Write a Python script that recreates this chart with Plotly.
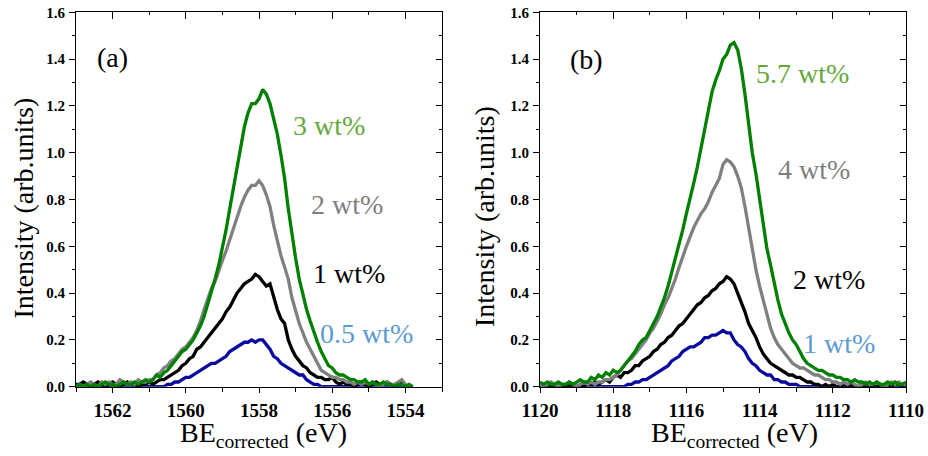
import numpy as np
import plotly.graph_objects as go

# ---------------- data ----------------
be_a = np.round(np.arange(1563.0, 1553.75, -0.1), 1)   # 1563.0 ... 1553.8
be_b = np.round(np.arange(1120.0, 1109.95, -0.1), 1)   # 1120.0 ... 1110.0

a_3wt = [0.00, 0.01, 0.00, 0.01, 0.00, 0.01, 0.00, 0.01, 0.02, 0.01,
         0.01, 0.00, 0.01, 0.02, 0.01, 0.01, 0.02, 0.01, 0.02, 0.03,
         0.02, 0.03, 0.05, 0.04, 0.06, 0.07, 0.09, 0.11, 0.13, 0.15,
         0.16, 0.18, 0.20, 0.23, 0.26, 0.30, 0.35, 0.40, 0.46, 0.52,
         0.59, 0.67, 0.76, 0.85, 0.94, 1.03, 1.11, 1.17, 1.21, 1.21,
         1.23, 1.27, 1.25, 1.21, 1.15, 1.08, 0.99, 0.89, 0.76, 0.65,
         0.55, 0.46, 0.39, 0.33, 0.28, 0.23, 0.19, 0.15, 0.12, 0.09,
         0.08, 0.06, 0.05, 0.05, 0.04, 0.03, 0.03, 0.02, 0.02, 0.03,
         0.01, 0.02, 0.01, 0.01, 0.02, 0.01, 0.01, 0.00, 0.01, 0.01,
         0.00, 0.01, 0.00]
a_2wt = [0.00, 0.01, 0.00, 0.01, 0.02, 0.01, 0.00, 0.02, 0.01, 0.02,
         0.01, 0.01, 0.03, 0.02, 0.01, 0.02, 0.01, 0.03, 0.02, 0.02,
         0.03, 0.03, 0.05, 0.06, 0.08, 0.09, 0.11, 0.12, 0.14, 0.16,
         0.17, 0.19, 0.21, 0.24, 0.28, 0.33, 0.38, 0.42, 0.45, 0.50,
         0.54, 0.58, 0.63, 0.68, 0.73, 0.77, 0.81, 0.84, 0.86, 0.86,
         0.88, 0.86, 0.82, 0.77, 0.69, 0.62, 0.56, 0.51, 0.46, 0.38,
         0.32, 0.27, 0.23, 0.19, 0.16, 0.13, 0.10, 0.07, 0.06, 0.05,
         0.04, 0.04, 0.03, 0.03, 0.02, 0.02, 0.01, 0.02, 0.01, 0.02,
         0.01, 0.02, 0.01, 0.00, 0.01, 0.02, 0.01, 0.01, 0.02, 0.03,
         0.01, 0.00, 0.00]
a_1wt = [0.00, 0.01, 0.02, 0.01, 0.00, 0.01, 0.02, 0.01, 0.00, 0.01,
         0.02, 0.01, 0.00, 0.01, 0.02, 0.01, 0.01, 0.00, 0.01, 0.01,
         0.02, 0.01, 0.02, 0.03, 0.03, 0.04, 0.05, 0.06, 0.07, 0.09,
         0.10, 0.12, 0.13, 0.16, 0.17, 0.19, 0.21, 0.23, 0.25, 0.27,
         0.29, 0.32, 0.34, 0.37, 0.40, 0.42, 0.44, 0.45, 0.46, 0.48,
         0.47, 0.45, 0.43, 0.44, 0.38, 0.33, 0.29, 0.27, 0.20, 0.16,
         0.13, 0.11, 0.09, 0.08, 0.06, 0.05, 0.04, 0.04, 0.03, 0.03,
         0.04, 0.02, 0.01, 0.02, 0.01, 0.01, 0.00, 0.01, 0.02, 0.01,
         0.00, 0.01, 0.02, 0.01, 0.01, 0.02, 0.01, 0.00, 0.01, 0.02,
         0.00, 0.00, 0.00]
a_05wt = [0.01, 0.01, 0.00, 0.00, 0.00, 0.00, 0.00, 0.00, 0.00, 0.00,
          0.00, 0.00, 0.00, 0.00, 0.00, 0.00, 0.00, 0.00, 0.00, 0.00,
          0.00, 0.00, 0.00, 0.00, 0.00, 0.01, 0.01, 0.02, 0.02, 0.03,
          0.04, 0.04, 0.05, 0.06, 0.07, 0.08, 0.09, 0.10, 0.10, 0.11,
          0.12, 0.13, 0.15, 0.16, 0.17, 0.18, 0.19, 0.19, 0.20, 0.19,
          0.20, 0.20, 0.18, 0.16, 0.13, 0.12, 0.10, 0.09, 0.08, 0.07,
          0.06, 0.05, 0.05, 0.03, 0.02, 0.01, 0.01, 0.00, 0.00, 0.00,
          0.00, 0.00, 0.00, 0.00, 0.00, 0.00, 0.00, 0.00, 0.00, 0.00,
          0.00, 0.00, 0.00, 0.00, 0.00, 0.00, 0.00, 0.00, 0.00, 0.00,
          0.00, 0.00, 0.00]

b_57wt = [0.02, 0.01, 0.02, 0.01, 0.01, 0.02, 0.01, 0.01, 0.02, 0.01,
          0.02, 0.03, 0.02, 0.02, 0.04, 0.03, 0.05, 0.04, 0.06, 0.05,
          0.07, 0.06, 0.07, 0.09, 0.11, 0.13, 0.15, 0.18, 0.20, 0.21,
          0.24, 0.27, 0.30, 0.34, 0.38, 0.43, 0.49, 0.54, 0.61, 0.67,
          0.74, 0.80, 0.87, 0.94, 1.02, 1.10, 1.17, 1.26, 1.31, 1.35,
          1.40, 1.42, 1.46, 1.47, 1.44, 1.36, 1.25, 1.12, 1.00, 0.91,
          0.80, 0.69, 0.59, 0.52, 0.44, 0.37, 0.31, 0.27, 0.23, 0.20,
          0.18, 0.15, 0.12, 0.10, 0.09, 0.08, 0.07, 0.07, 0.06, 0.05,
          0.05, 0.04, 0.04, 0.03, 0.03, 0.02, 0.03, 0.02, 0.02, 0.01,
          0.02, 0.01, 0.02, 0.01, 0.01, 0.02, 0.01, 0.02, 0.01, 0.01,
          0.02]
b_4wt = [0.01, 0.00, 0.01, 0.02, 0.01, 0.00, 0.01, 0.01, 0.02, 0.01,
         0.00, 0.01, 0.02, 0.01, 0.02, 0.01, 0.02, 0.02, 0.03, 0.03,
         0.04, 0.05, 0.07, 0.09, 0.11, 0.12, 0.14, 0.16, 0.18, 0.20,
         0.23, 0.25, 0.28, 0.31, 0.35, 0.38, 0.42, 0.46, 0.51, 0.56,
         0.60, 0.64, 0.68, 0.71, 0.74, 0.76, 0.79, 0.83, 0.86, 0.89,
         0.95, 0.97, 0.96, 0.94, 0.90, 0.85, 0.77, 0.68, 0.58, 0.50,
         0.43, 0.37, 0.30, 0.25, 0.21, 0.18, 0.16, 0.14, 0.12, 0.10,
         0.09, 0.08, 0.08, 0.07, 0.06, 0.05, 0.05, 0.04, 0.03, 0.03,
         0.02, 0.02, 0.01, 0.02, 0.01, 0.02, 0.01, 0.00, 0.01, 0.02,
         0.01, 0.01, 0.02, 0.01, 0.00, 0.01, 0.02, 0.01, 0.02, 0.01,
         0.01]
b_2wt = [0.00, 0.01, 0.00, 0.00, 0.01, 0.00, 0.01, 0.00, 0.01, 0.00,
         0.00, 0.01, 0.00, 0.01, 0.01, 0.02, 0.01, 0.02, 0.03, 0.02,
         0.04, 0.05, 0.04, 0.06, 0.06, 0.07, 0.09, 0.09, 0.11, 0.12,
         0.13, 0.15, 0.16, 0.18, 0.19, 0.21, 0.22, 0.24, 0.26, 0.27,
         0.29, 0.31, 0.33, 0.35, 0.36, 0.38, 0.39, 0.41, 0.42, 0.44,
         0.45, 0.47, 0.46, 0.44, 0.40, 0.36, 0.32, 0.27, 0.24, 0.21,
         0.17, 0.14, 0.12, 0.10, 0.09, 0.08, 0.07, 0.06, 0.05, 0.05,
         0.04, 0.04, 0.03, 0.02, 0.02, 0.01, 0.01, 0.00, 0.01, 0.00,
         0.01, 0.00, 0.00, 0.01, 0.00, 0.01, 0.00, 0.00, 0.01, 0.00,
         0.01, 0.00, 0.00, 0.01, 0.00, 0.01, 0.00, 0.01, 0.01, 0.00,
         0.00]
b_1wt = [0.00, 0.00, 0.00, 0.00, 0.00, 0.00, 0.00, 0.00, 0.00, 0.00,
         0.00, 0.00, 0.00, 0.00, 0.00, 0.00, 0.00, 0.00, 0.00, 0.00,
         0.00, 0.00, 0.00, 0.00, 0.01, 0.01, 0.02, 0.02, 0.03, 0.03,
         0.04, 0.05, 0.06, 0.07, 0.08, 0.09, 0.11, 0.12, 0.13, 0.15,
         0.16, 0.17, 0.17, 0.18, 0.19, 0.21, 0.21, 0.22, 0.22, 0.23,
         0.24, 0.23, 0.23, 0.20, 0.18, 0.17, 0.15, 0.12, 0.10, 0.09,
         0.07, 0.06, 0.05, 0.05, 0.03, 0.03, 0.02, 0.02, 0.01, 0.01,
         0.01, 0.00, 0.00, 0.00, 0.00, 0.00, 0.00, 0.00, 0.00, 0.00,
         0.00, 0.00, 0.00, 0.00, 0.00, 0.00, 0.00, 0.00, 0.00, 0.00,
         0.00, 0.00, 0.00, 0.00, 0.00, 0.00, 0.00, 0.00, 0.00, 0.00,
         0.00]

labels_a = ["0.5 wt%", "1 wt%", "2 wt%", "3 wt%"]
labels_b = ["1 wt%", "2 wt%", "4 wt%", "5.7 wt%"]
line_colors = ["#0a0aa0", "#000000", "#808080", "#008000"]
label_colors = ["#5b9bd5", "#000000", "#808080", "#64a83c"]

# ---------------- figure ----------------
W, H = 928, 456
SERIF = "Liberation Serif"

def px(x):
    return x / W

def py(y):
    return 1 - y / H

fig = go.Figure()
for ys, col, nm in zip([a_05wt, a_1wt, a_2wt, a_3wt], line_colors, labels_a):
    fig.add_trace(go.Scatter(x=be_a, y=ys, mode="lines", name=nm,
                             line=dict(color=col, width=3.3), xaxis="x", yaxis="y"))
for ys, col, nm in zip([b_1wt, b_2wt, b_4wt, b_57wt], line_colors, labels_b):
    fig.add_trace(go.Scatter(x=be_b, y=ys, mode="lines", name=nm,
                             line=dict(color=col, width=3.3), xaxis="x2", yaxis="y2"))
# empty helper traces so the mirrored (top / right) axes are drawn
for xa, ya in [("x3", "y"), ("x", "y3"), ("x4", "y2"), ("x2", "y4")]:
    fig.add_trace(go.Scatter(x=[None], y=[None], xaxis=xa, yaxis=ya, mode="lines",
                             showlegend=False, hoverinfo="skip"))

ydom = [1 - 386.7 / H, 1 - 12.3 / H]
xdom_a = [76 / W, 442 / W]
xdom_b = [540 / W, 906 / W]

xtf = dict(family=SERIF, size=19, color="black", weight="bold")
ytf = dict(family=SERIF, size=15, color="black", weight="bold")

common = dict(showline=True, linecolor="black", linewidth=1, showgrid=False,
              zeroline=False, automargin=False)

def xbottom(dom, rng, t0, anchor):
    return dict(domain=dom, range=rng, anchor=anchor, tick0=t0, dtick=2,
                ticks="outside", ticklen=5, tickwidth=1, tickcolor="black",
                minor=dict(dtick=1, ticks="outside", ticklen=4, tickwidth=1, tickcolor="black"),
                tickfont=xtf, ticklabelstandoff=1, **common)

def xtop(rng, t0, over, anchor):
    return dict(overlaying=over, anchor=anchor, side="top", range=rng, tick0=t0, dtick=2,
                ticks="inside", ticklen=7, tickwidth=1, tickcolor="black",
                minor=dict(dtick=1, ticks="inside", ticklen=3, tickwidth=1, tickcolor="black"),
                showticklabels=False, **common)

def yleft(anchor):
    return dict(domain=ydom, range=[0, 1.6], anchor=anchor, dtick=0.2, tickformat=".1f",
                ticks="outside", ticklen=6, tickwidth=1, tickcolor="black",
                minor=dict(dtick=0.1, ticks="outside", ticklen=3, tickwidth=1, tickcolor="black"),
                tickfont=ytf, ticklabelstandoff=1, **common)

def yright(over, anchor):
    return dict(overlaying=over, anchor=anchor, side="right", range=[0, 1.6], dtick=0.2,
                ticks="inside", ticklen=6, tickwidth=1, tickcolor="black",
                minor=dict(dtick=0.1, ticks="inside", ticklen=3, tickwidth=1, tickcolor="black"),
                showticklabels=False, **common)

fig.update_layout(
    width=W, height=H, margin=dict(l=0, r=0, t=0, b=0, autoexpand=False),
    paper_bgcolor="white", plot_bgcolor="white", showlegend=False,
    font=dict(family=SERIF, color="black"),
    xaxis=xbottom(xdom_a, [1563, 1553], 1562, "y"),
    yaxis=yleft("x"),
    xaxis2=xbottom(xdom_b, [1120, 1110], 1120, "y2"),
    yaxis2=yleft("x2"),
    xaxis3=xtop([1563, 1553], 1562, "x", "y"),
    yaxis3=yright("y", "x"),
    xaxis4=xtop([1120, 1110], 1120, "x2", "y2"),
    yaxis4=yright("y2", "x2"),
)

ann = []
big = dict(family=SERIF, size=28)
# panel letters
ann.append(dict(text="(a)", x=px(112), y=py(57), font=dict(color="black", **big)))
ann.append(dict(text="(b)", x=px(586), y=py(59), font=dict(color="black", **big)))
# concentration labels
pos_a = [(366.5, 333), (349, 273), (346.5, 204), (328.5, 125)]
pos_b = [(839, 343), (828.5, 279), (813.5, 169), (802.5, 74)]
for (x, y), t, c in zip(pos_a, labels_a, label_colors):
    ann.append(dict(text=t, x=px(x), y=py(y), font=dict(color=c, **big)))
for (x, y), t, c in zip(pos_b, labels_b, label_colors):
    ann.append(dict(text=t, x=px(x), y=py(y), font=dict(color=c, **big)))
# axis titles
for x, y in [(22.5, 208), (484, 217)]:
    ann.append(dict(text="Intensity (arb.units)", x=px(x), y=py(y), textangle=-90,
                    font=dict(color="black", **big)))
for x in [263.5, 734]:
    ann.append(dict(text="BE<sub>corrected</sub> (eV)", x=px(x), y=py(434),
                    font=dict(color="black", **big)))
for a in ann:
    a.update(xref="paper", yref="paper", showarrow=False, xanchor="center", yanchor="middle")
fig.update_layout(annotations=ann)

fig.write_html("out.html")
